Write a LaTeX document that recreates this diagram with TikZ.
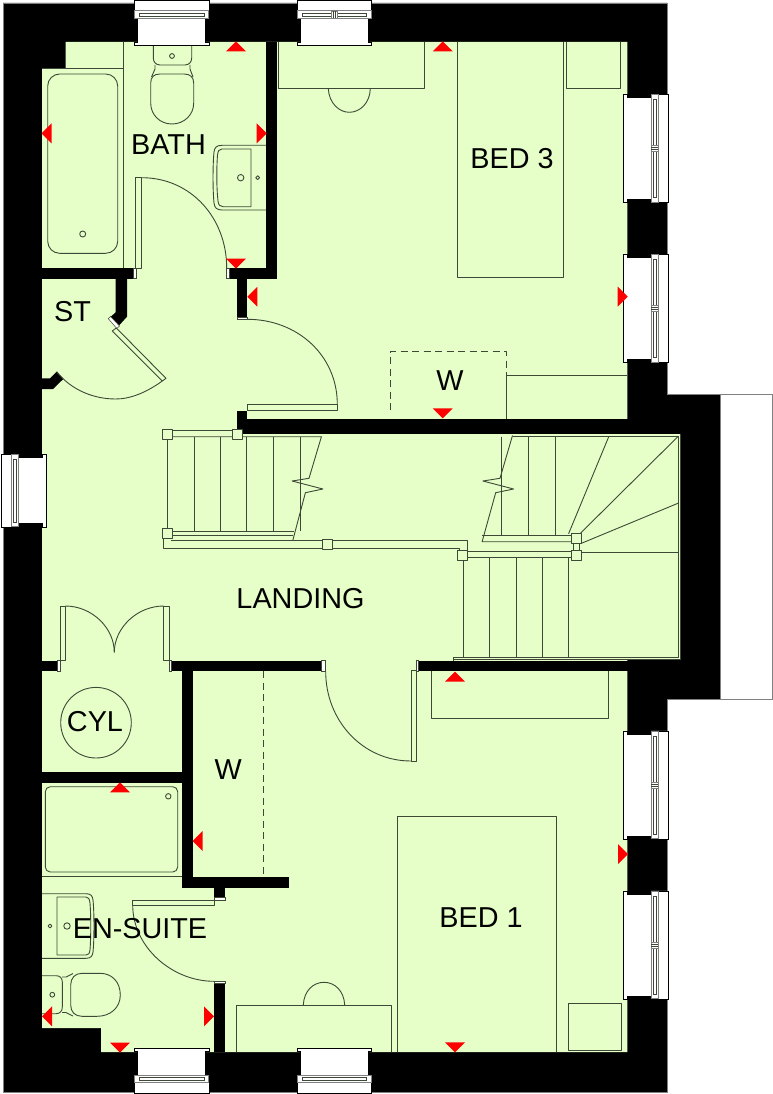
\documentclass[tikz,border=0pt]{standalone}
\usepackage{fontspec}
\setmainfont{Liberation Sans}
\definecolor{floorgreen}{HTML}{E6FFC8}
\definecolor{planline}{HTML}{3E4836}
\definecolor{framegrey}{HTML}{808080}
\tikzset{
	wallfill/.style={fill=black},
	plan/.style={draw=planline,line width=.9pt,line join=round},
	leaf/.style={plan,fill=floorgreen},
	framestrip/.style={fill=white,draw=planline,line width=.5pt},
	tapdot/.style={plan,fill=none},
	redmark/.style={fill=red},
	roomlabel/.style={font=\fontsize{28.8}{30}\selectfont,inner sep=0pt,text=black},
	newel/.style={plan,fill=floorgreen}
}
\newcommand{\planwindow}[4]{%
	\begin{scope}[shift={(#1,#2)},rotate=#3]
		\filldraw[fill=white,draw=black,line width=.8pt] (0,0) -- (#4,0) -- (#4,3.4) -- (#4-3.4,3.4) -- (#4-3.4,27.3) -- (#4,27.3) -- (#4,45) -- (0,45) -- (0,27.3) -- (3.4,27.3) -- (3.4,3.4) -- (0,3.4) -- cycle;
		\draw[draw=framegrey,line width=1pt] (0,27.3) -- (#4,27.3);
		\draw[draw=framegrey,line width=1pt] (0,34.7) -- (#4,34.7);
		\draw[draw=framegrey,line width=.7pt] (.5,27.3) -- (.5,34.7);
		\draw[draw=framegrey,line width=.7pt] (#4-.5,27.3) -- (#4-.5,34.7);
		\draw[draw=planline,line width=.7pt] (5,29.5) rectangle (#4-5,32.5);
	\end{scope}}
\newcommand{\windowbar}[4]{%
	\begin{scope}[shift={(#1,#2)},rotate=#3]
		\draw[draw=framegrey,line width=.7pt,fill=white] (#4/2-3,27.3) rectangle (#4/2+3,34.7);
		\draw[draw=planline,line width=.6pt] (#4/2-1,27.3) -- (#4/2-1,34.7);
		\draw[draw=planline,line width=.6pt] (#4/2+1,27.3) -- (#4/2+1,34.7);
	\end{scope}}
\begin{document}
\begin{tikzpicture}[x=1pt,y=-1pt]
	\useasboundingbox (0,0) rectangle (773,1094);
	\filldraw[wallfill,draw=framegrey,line width=.8pt] (3,3) -- (667,3) -- (667,394) -- (720,394) -- (720,699) -- (667,699) -- (667,1092) -- (3,1092) -- cycle;
	\filldraw[fill=white,draw=framegrey,line width=.8pt] (720,394) rectangle (772,699);
	\fill[floorgreen] (65.7,42) -- (627.3,42) -- (627.3,434) -- (680.7,434) -- (680.7,659.5) -- (627.3,659.5) -- (627.3,1052) -- (101,1052) -- (101,1028) -- (42,1028) -- (42,68.7) -- (65.7,68.7) -- cycle;

	\foreach \xa/\ya/\xb/\yb in {266/42/277.3/278.7,
		42/268/133.5/278.7,
		229.3/268/277.3/278.7,
		236.7/278/247.3/319.3,
		247/419/627.5/434,
		42/660.7/57.7/671,
		171.7/660.7/323.3/671,
		418.3/660.7/627.5/671,
		182/671/193/887.7,
		42/771.7/182/783,
		182/876.7/289.3/887.7,
		213.7/887/225/897.3,
		213.7/983.3/225/1052}
		\fill[wallfill] (\xa,\ya) rectangle (\xb,\yb);
	\fill[wallfill] (236.8,411) -- (247.3,411) -- (247.3,434) -- (236.8,434) -- cycle;
	\fill[wallfill] (115.7,278) -- (127,278) -- (127,316.7) -- (119,325.5) -- (110.5,317) -- (115.7,312.3) -- cycle;
	\fill[wallfill] (42,378.3) -- (50,378.3) -- (56.7,371.7) -- (63.3,379) -- (53,389) -- (42,389) -- cycle;

	\foreach \xa/\ya/\xb/\yb in {133.5/268/136/278.7,
		226.7/268/229.3/278.7,
		237/317.3/247.3/319.3,
		321.5/660.7/325.5/671,
		416/660.7/418.3/671,
		57.7/660.7/60.7/671,
		169/660.7/171.7/671,
		214.3/897.3/225/900.7,
		214/981.3/225/983.3}
		\filldraw[framestrip] (\xa,\ya) rectangle (\xb,\yb);
	\filldraw[framestrip] (108.3,318.7) -- (110.5,316.5) -- (119.5,326) -- (116.8,328.5) -- cycle;

	% bathroom
	\draw[plan] (123.7,42) -- (123.7,268);
	\draw[plan] (42,68.7) -- (123.7,68.7);
	\draw[plan,rounded corners=12pt] (47.7,74) rectangle (117.7,253.3);
	\draw[tapdot] (82.7,234) circle (3);
	\draw[plan] (153.3,46) -- (153.3,58) .. controls (153.3,62) and (156,65) .. (160,65) -- (185,65) .. controls (189,65) and (191.7,62) .. (191.7,58) -- (191.7,46);
	\draw[plan] (155,65) -- (155,69) -- (151.5,77);
	\draw[plan] (190,65) -- (190,69) -- (193,77);
	\draw[plan] (172,74) -- (160,74) .. controls (154,74) and (150.7,77) .. (150.7,83) -- (150.7,103) .. controls (150.7,115) and (160,124) .. (172,124) .. controls (184,124) and (193.7,115) .. (193.7,103) -- (193.7,83) .. controls (193.7,77) and (190,74) .. (184,74) -- cycle;
	\draw[tapdot] (172,56) circle (2.4);
	\draw[plan] (266,145.3) -- (222,145.3) .. controls (216,145.3) and (214.5,148) .. (214,152) .. controls (212.7,165) and (212.7,190) .. (214,203) .. controls (214.5,208) and (217,210) .. (222,210) -- (266,210);
	\draw[plan] (251,149) -- (222,149) .. controls (219,149) and (218,151) .. (217.5,155) .. controls (216.5,168) and (216.5,188) .. (218,201) .. controls (218.5,205) and (220,206.7) .. (223,206.7) -- (251,206.7) -- cycle;
	\draw[tapdot] (240.7,177.7) circle (3.2);
	\draw[tapdot] (257.7,177.7) circle (1.9);
	\draw[leaf] (135.7,177.7) rectangle (141.7,268.3);
	\draw[plan] (141.7,177.7) .. controls (191,177.7) and (226.7,218) .. (226.7,268);

	% bed 3
	\draw[plan] (457.3,42) -- (457.3,277.3) -- (563.7,277.3) -- (563.7,42);
	\draw[plan] (566.3,42) -- (566.3,88.7) -- (620.3,88.7) -- (620.3,42);
	\draw[plan] (278.3,42) -- (278.3,88.7) -- (424.7,88.7) -- (424.7,42);
	\draw[plan] (328.3,88.7) .. controls (329,103) and (339,112.3) .. (349.3,112.3) .. controls (360,112.3) and (370,103) .. (370.3,88.7);
	\draw[plan,dashed,dash pattern=on 7pt off 4.5pt] (390,410) -- (390,351.7) -- (506.7,351.7) -- (506.7,376);
	\draw[plan] (506.7,419) -- (506.7,375.7) -- (627.3,375.7);
	\draw[leaf] (247.3,404.3) rectangle (337.3,410.3);
	\draw[plan] (247.3,319.3) .. controls (297,319.3) and (337.3,355) .. (337.3,404.3);

	% store
	\draw[leaf] (116.3,328) -- (166,378.3) -- (162.3,381) -- (112.3,331) -- cycle;
	\draw[plan] (162.3,381) .. controls (147,392) and (131,399) .. (115.7,399) .. controls (95,399) and (72,391) .. (56.7,371.7);

	% stairs
	\draw[plan] (167.9,437) -- (167.9,531);
	\foreach \treadx in {194.3,220.7,246.8,273.2,300}
		\draw[plan] (\treadx,436.7) -- (\treadx,531);
	\draw[plan] (172.5,430.3) -- (232,430.3);
	\draw[plan] (172.5,436.7) -- (321.4,436.7) -- (309,478.3) -- (292.1,481) -- (322.9,489) -- (305.4,492.7) -- (292.9,540);
	\draw[plan] (172.5,531) -- (294,531);
	\draw[plan] (172.5,535) -- (293,535);
	\draw[plan] (163.6,538) -- (163.6,548.3) -- (459.3,548.3) -- (459.3,551);
	\draw[plan] (171.4,540.7) -- (467.1,540.7) -- (467.1,551);
	\draw[plan] (467.9,551.7) -- (571.4,551.7);
	\draw[plan] (467.9,557) -- (571.4,557);
	\draw[plan] (512.5,435.5) -- (500,478.3) -- (482.9,481) -- (513.6,489) -- (495.7,492.7) -- (482.1,541.7) -- (571.4,541.7);
	\draw[plan] (482.1,535) -- (571.4,535);
	\foreach \treadx in {501.4,528.2,555.4}
		\draw[plan] (\treadx,436.7) -- (\treadx,535);
	\draw[plan] (568.6,533.7) -- (608.6,437);
	\draw[plan] (580.4,533.3) -- (677.5,437);
	\draw[plan] (581.4,543.3) -- (677.9,503.3);
	\draw[plan] (581.4,552.7) -- (677.9,552.7);
	\draw[plan] (573,543) -- (573,551);
	\draw[plan] (579.6,543) -- (579.6,551);
	\draw[plan] (463.2,560.7) -- (463.2,657.3);
	\foreach \treadx in {489.3,516.1,542.5,568.2}
		\draw[plan] (\treadx,557) -- (\treadx,657.3);
	\draw[plan] (512.5,436.7) -- (678,436.7) -- (678,657.3) -- (453.6,657.3) -- (453.6,660.7);
	\draw[plan] (680.5,434) -- (680.5,659.7) -- (453.6,659.7);
	\foreach \postx/\posty in {162.5/429,232/429,162.5/528.3,322.9/539.3,457.9/550.7,571.4/550.7,571.4/533.7}
		\filldraw[newel] (\postx,\posty) rectangle ++(10,10);

	% cupboard
	\draw[leaf] (60.7,606) rectangle (65.3,660.7);
	\draw[leaf] (163.7,606) rectangle (169,660.7);
	\draw[plan] (65.3,606) .. controls (92,606) and (114.3,628) .. (114.3,652.3);
	\draw[plan] (163.7,606) .. controls (137,606) and (114.3,628) .. (114.3,652.3);
	\node[draw=planline,line width=.9pt,circle,minimum size=70.6pt,inner sep=0pt] (cylinder) at (96,722.7) {};

	% en-suite
	\draw[plan] (42,876.3) -- (182,876.3);
	\draw[plan,rounded corners=5pt] (45.3,786.7) rectangle (177.7,872);
	\draw[tapdot] (168.3,796.3) circle (2.7);
	\draw[plan] (42,893.7) -- (86,893.7) .. controls (91,893.7) and (92.5,896) .. (93,900) .. controls (94.3,912) and (94.3,940) .. (93,952) .. controls (92.5,956) and (91,958.3) .. (86,958.3) -- (42,958.3);
	\draw[plan] (57,897) -- (86,897) .. controls (88.5,897) and (89.5,899) .. (90,903) .. controls (91,915) and (91,938) .. (90,950) .. controls (89.5,953.5) and (88.5,955) .. (86,955) -- (57,955) -- cycle;
	\draw[tapdot] (50,926) circle (1.9);
	\draw[tapdot] (67,926) circle (3.2);
	\draw[plan] (42,975.7) -- (56,975.7) .. controls (60,975.7) and (62.3,978) .. (62.3,982) -- (62.3,1007) .. controls (62.3,1011) and (60,1013.7) .. (56,1013.7) -- (42,1013.7);
	\draw[plan] (62,977) -- (66,977) -- (73,973.5);
	\draw[plan] (62,1012.5) -- (66,1012.5) -- (73,1016);
	\draw[plan] (82,973.3) -- (100,973.3) .. controls (112,973.3) and (120.3,982) .. (120.3,995) .. controls (120.3,1008) and (110,1016.3) .. (97,1016.3) -- (82,1016.3) .. controls (75,1016.3) and (70.7,1012) .. (70.7,1005) -- (70.7,985) .. controls (70.7,978) and (75,973.3) .. (82,973.3) -- cycle;
	\draw[tapdot] (52.3,994.7) circle (2.4);
	\draw[leaf] (132.7,900) rectangle (214.3,905);
	\draw[plan] (132.7,905) .. controls (132.7,947) and (172,981.3) .. (214,981.3);

	% bed 1
	\draw[plan] (431,671) -- (431,718.3) -- (608.3,718.3) -- (608.3,671);
	\draw[plan] (397,1052) -- (397,816.3) -- (556.7,816.3) -- (556.7,1052);
	\draw[plan] (568.3,1003.3) rectangle (621.7,1050.3);
	\draw[plan] (236.3,1052) -- (236.3,1005) -- (391.7,1005) -- (391.7,1052);
	\draw[plan] (303.3,1005) .. controls (304,991) and (313,982.3) .. (324,982.3) .. controls (335,982.3) and (344,991) .. (344.7,1005);
	\draw[plan,dashed,dash pattern=on 7pt off 4.5pt] (263.3,671) -- (263.3,877);
	\draw[leaf] (411,670.7) rectangle (416.3,761);
	\draw[plan] (411,761) .. controls (362,761) and (325.7,720) .. (325.7,671.7);

	\planwindow{209}{45.7}{180}{74.7}
	\planwindow{371.7}{45.7}{180}{74.4}
	\windowbar{371.7}{45.7}{180}{74.4}
	\planwindow{134.3}{1048}{0}{74.7}
	\planwindow{297.3}{1048}{0}{74.4}
	\planwindow{46}{454}{-90}{73}
	\foreach \winy in {202.7,362.7,839.3,999.3}{
		\planwindow{623.7}{\winy}{90}{108.4}
		\windowbar{623.7}{\winy}{90}{108.4}
	}

	\foreach \mx/\my/\mr in {236/41.3/180,442.7/41.3/180,41.5/133.3/-90,266.7/133.3/90,
		236/268.7/0,247.3/296.7/-90,627.7/296.7/90,442.7/418.3/0,
		455/671.7/180,628/854/90,455/1052.3/0,192.7/841/-90,
		120/782.3/180,42/1016.3/-90,214/1016.3/90,120/1052.7/0}
		\fill[redmark,shift={(\mx,\my)},rotate=\mr] (0,0) -- (-10,-10) -- (10,-10) -- cycle;

	\node[roomlabel] (bath) at (168.5,145) {BATH};
	\node[roomlabel] (store) at (72.5,311.7) {ST};
	\node[roomlabel] (bedthree) at (512,159) {BED 3};
	\node[roomlabel] (wardrobethree) at (450,380.7) {W};
	\node[roomlabel] (landing) at (300.5,598.7) {LANDING};
	\node[roomlabel] (cyl) at (95,721.7) {CYL};
	\node[roomlabel] (wardrobeone) at (228.3,769.3) {W};
	\node[roomlabel] (ensuite) at (140,928.3) {EN-SUITE};
	\node[roomlabel] (bedone) at (481,917.2) {BED 1};
\end{tikzpicture}
\end{document}
